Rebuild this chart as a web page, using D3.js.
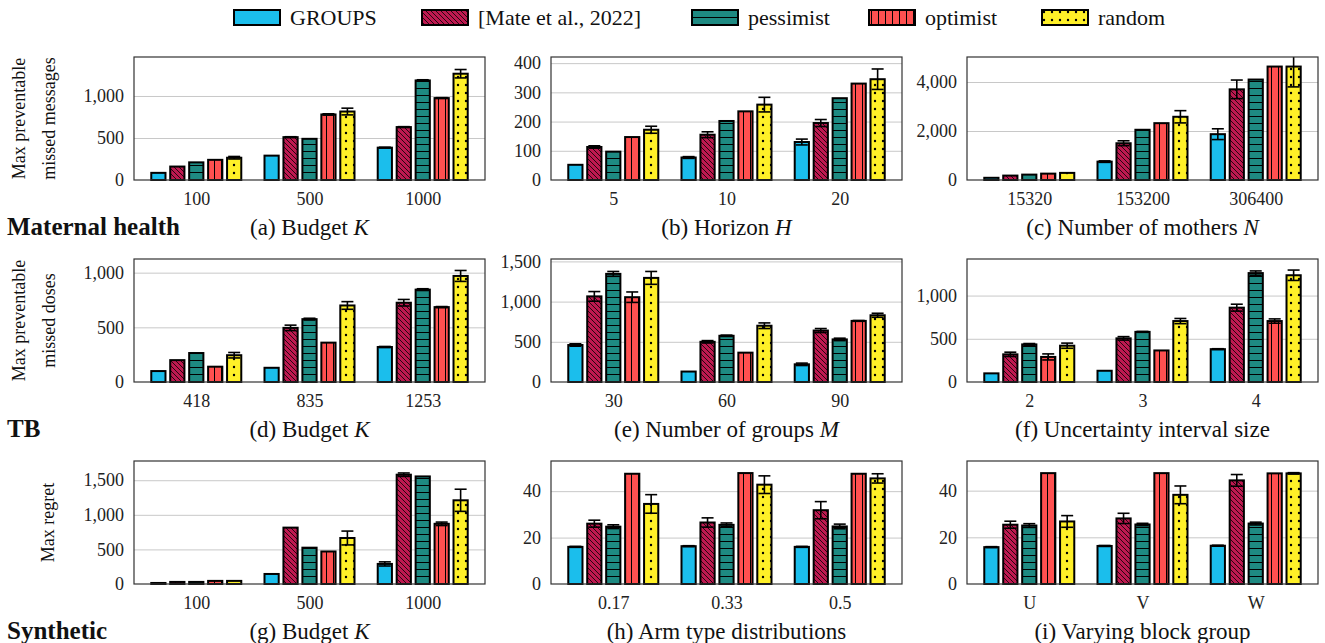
<!DOCTYPE html>
<html>
<head>
<meta charset="utf-8">
<script src="https://cdn.jsdelivr.net/npm/d3@7"></script>
<style>
  body { margin: 0; background: #fff; }
  svg { font-family: "Liberation Serif", "Times New Roman", serif; }
</style>
</head>
<body>
<svg id="chart" width="1325" height="643"></svg>
<script>
// series and look
const series = ["GROUPS", "[Mate et al., 2022]", "pessimist", "optimist", "random"];
const colors = ["#1bbeec", "#be1950", "#1e8a82", "#ff5050", "#fff028"];

// (a) maternal health, budget
const catA = ["100", "500", "1000"];
const valA = [[85, 160, 210, 240, 265], [290, 510, 490, 780, 815], [385, 630, 1185, 975, 1265]];
const errA = [[0, 0, 0, 0, 15], [0, 5, 0, 8, 40], [5, 5, 8, 5, 50]];
// (b) horizon
const catB = ["5", "10", "20"];
const valB = [[52, 113, 97, 147, 172], [77, 155, 202, 235, 258], [130, 195, 280, 330, 345]];
const errB = [[0, 4, 0, 0, 12], [3, 10, 0, 0, 25], [10, 12, 0, 0, 35]];
// (c) number of mothers
const catC = ["15320", "153200", "306400"];
const valC = [[90, 180, 220, 260, 290], [750, 1500, 2050, 2320, 2580], [1870, 3700, 4100, 4630, 4630]];
const errC = [[0, 0, 0, 0, 0], [30, 100, 0, 0, 250], [220, 380, 0, 0, 830]];
// (d) TB budget
const catD = ["418", "835", "1253"];
const valD = [[100, 200, 265, 140, 245], [130, 495, 575, 360, 700], [320, 725, 845, 685, 970]];
const errD = [[0, 0, 0, 0, 25], [0, 25, 8, 0, 35], [5, 30, 8, 5, 50]];
// (e) number of groups
const catE = ["30", "60", "90"];
const valE = [[460, 1065, 1345, 1055, 1295], [130, 500, 575, 365, 700], [220, 640, 530, 760, 830]];
const errE = [[15, 60, 30, 65, 80], [0, 15, 8, 0, 35], [15, 25, 15, 5, 25]];
// (f) uncertainty interval size
const catF = ["2", "3", "4"];
const valF = [[100, 320, 435, 290, 420], [130, 505, 580, 365, 705], [380, 860, 1260, 705, 1235]];
const errF = [[0, 25, 10, 35, 30], [0, 20, 5, 0, 30], [5, 40, 25, 25, 60]];
// (g) synthetic budget
const catG = ["100", "500", "1000"];
const valG = [[15, 30, 30, 45, 45], [145, 815, 525, 470, 665], [290, 1580, 1555, 870, 1210]];
const errG = [[0, 0, 0, 0, 0], [0, 0, 0, 0, 100], [30, 25, 0, 25, 160]];
// (h) arm type distributions
const catH = ["0.17", "0.33", "0.5"];
const valH = [[16, 26, 24.7, 47.5, 34.5], [16.3, 26.5, 25.5, 47.8, 42.8], [16, 31.8, 24.8, 47.5, 45.5]];
const errH = [[0.2, 1.5, 0.8, 0, 4], [0.2, 2, 0.8, 0, 3.8], [0.2, 3.7, 1, 0, 2]];
// (i) varying block group
const catI = ["U", "V", "W"];
const valI = [[15.8, 25.4, 25.05, 47.5, 26.8], [16.3, 28.1, 25.5, 47.5, 38.2], [16.4, 44.4, 25.9, 47.4, 47.4]];
const errI = [[0.2, 1.5, 0.8, 0, 2.5], [0.2, 2.2, 0.5, 0, 3.8], [0.2, 2.5, 0.6, 0, 0.3]];

const svg = d3.select("#chart");

// fill patterns
const defs = svg.append("defs");
function pattern(id, bg, size, draw) {
  const p = defs.append("pattern").attr("id", id)
    .attr("patternUnits", "userSpaceOnUse")
    .attr("width", size).attr("height", size);
  p.append("rect").attr("width", size).attr("height", size).attr("fill", bg);
  draw(p);
}
pattern("p0", colors[0], 6, p => {});
pattern("p1", colors[1], 5, p => p.append("path")
  .attr("d", "M0,0L5,5M-1,4L1,6M4,-1L6,1").attr("stroke", "#000").attr("stroke-width", 0.8));
pattern("p2", colors[2], 7, p => p.append("path")
  .attr("d", "M0,3.5H7").attr("stroke", "#000").attr("stroke-width", 1));
pattern("p3", colors[3], 7, p => p.append("path")
  .attr("d", "M3.5,0V7").attr("stroke", "#000").attr("stroke-width", 1));
pattern("p4", colors[4], 8, p => p.append("circle")
  .attr("cx", 4).attr("cy", 4).attr("r", 1.2).attr("fill", "#000"));

const fills = series.map((s, i) => `url(#p${i})`);

// layout
const colX = [134, 551, 967];
const rowY = [57, 259, 461];
const pw = 351, ph = 123;

const panels = [
  { cats: catA, vals: valA, errs: errA, ymax: 1464, ticks: [0, 500, 1000], title: "(a) Budget ", it: "K", c: 0, r: 0 },
  { cats: catB, vals: valB, errs: errB, ymax: 421, ticks: [0, 100, 200, 300, 400], title: "(b) Horizon ", it: "H", c: 1, r: 0 },
  { cats: catC, vals: valC, errs: errC, ymax: 5020, ticks: [0, 2000, 4000], title: "(c) Number of mothers ", it: "N", c: 2, r: 0 },
  { cats: catD, vals: valD, errs: errD, ymax: 1125, ticks: [0, 500, 1000], title: "(d) Budget ", it: "K", c: 0, r: 1 },
  { cats: catE, vals: valE, errs: errE, ymax: 1530, ticks: [0, 500, 1000, 1500], title: "(e) Number of groups ", it: "M", c: 1, r: 1 },
  { cats: catF, vals: valF, errs: errF, ymax: 1423, ticks: [0, 500, 1000], title: "(f) Uncertainty interval size", it: "", c: 2, r: 1 },
  { cats: catG, vals: valG, errs: errG, ymax: 1778, ticks: [0, 500, 1000, 1500], title: "(g) Budget ", it: "K", c: 0, r: 2 },
  { cats: catH, vals: valH, errs: errH, ymax: 53, ticks: [0, 20, 40], title: "(h) Arm type distributions", it: "", c: 1, r: 2 },
  { cats: catI, vals: valI, errs: errI, ymax: 52.7, ticks: [0, 20, 40], title: "(i) Varying block group", it: "", c: 2, r: 2 }
];

panels.forEach(p => {
  const x0 = colX[p.c], y0 = rowY[p.r];
  const g = svg.append("g").attr("transform", `translate(${x0},${y0})`);

  const x = d3.scalePoint().domain(p.cats).range([0, pw]).padding(0.55);
  const xs = d3.scaleBand().domain(series).range([-45, 45]).paddingInner(0.25);
  const y = d3.scaleLinear().domain([0, p.ymax]).range([ph, 0]);

  // grid
  g.append("g")
    .call(d3.axisLeft(y).tickValues(p.ticks.filter(t => t > 0)).tickSize(-pw).tickFormat(""))
    .call(a => a.select(".domain").remove())
    .call(a => a.selectAll("line").attr("stroke", "#c8c8c8").attr("stroke-width", 1));

  // y axis labels
  g.append("g")
    .call(d3.axisLeft(y).tickValues(p.ticks).tickSize(0).tickPadding(10).tickFormat(d3.format(",")))
    .call(a => a.select(".domain").remove())
    .call(a => a.selectAll("text").attr("font-size", 18).attr("fill", "#222")
      .attr("font-family", "Liberation Serif, serif"));

  // x axis labels
  g.append("g").attr("transform", `translate(0,${ph})`)
    .call(d3.axisBottom(x).tickSize(0).tickPadding(12))
    .call(a => a.select(".domain").remove())
    .call(a => a.selectAll("text").attr("font-size", 18).attr("fill", "#222")
      .attr("font-family", "Liberation Serif, serif"));

  // bars
  const rows = [];
  p.cats.forEach((cat, ci) => series.forEach((s, si) => {
    rows.push({ cat, s, si, v: p.vals[ci][si], e: p.errs[ci][si] });
  }));

  const bg = g.append("g");
  bg.selectAll("rect").data(rows).join("rect")
    .attr("x", d => x(d.cat) + xs(d.s))
    .attr("y", d => y(d.v))
    .attr("width", xs.bandwidth())
    .attr("height", d => y(0) - y(d.v))
    .attr("fill", d => fills[d.si])
    .attr("stroke", "#000")
    .attr("stroke-width", 2);

  // error bars (clipped at the frame top)
  const eb = g.append("g").attr("stroke", "#000").attr("stroke-width", 1.6);
  rows.filter(d => d.e > 0).forEach(d => {
    const cx = x(d.cat) + xs(d.s) + xs.bandwidth() / 2;
    const top = Math.max(y(d.v + d.e), 0);
    const bot = y(d.v - d.e);
    eb.append("line").attr("x1", cx).attr("x2", cx).attr("y1", top).attr("y2", bot);
    if (y(d.v + d.e) >= 0) {
      eb.append("line").attr("x1", cx - 6).attr("x2", cx + 6).attr("y1", top).attr("y2", top);
    }
    eb.append("line").attr("x1", cx - 6).attr("x2", cx + 6).attr("y1", bot).attr("y2", bot);
  });

  // frame
  g.append("rect").attr("width", pw).attr("height", ph)
    .attr("fill", "none").attr("stroke", "#333").attr("stroke-width", 1.2);

  // caption
  const t = g.append("text")
    .attr("x", pw / 2).attr("y", ph + 55)
    .attr("text-anchor", "middle")
    .attr("font-size", 23).attr("fill", "#111")
    .text(p.title);
  if (p.it) t.append("tspan").attr("font-style", "italic").text(p.it);
});

// row titles
const rowNames = ["Maternal health", "TB", "Synthetic"];
rowNames.forEach((n, i) => {
  svg.append("text").attr("x", 7).attr("y", rowY[i] + ph + 55)
    .attr("font-size", 25).attr("font-weight", "bold").attr("fill", "#111").text(n);
});

// y titles
const yTitles = [["Max preventable", "missed messages"], ["Max preventable", "missed doses"], ["Max regret"]];
yTitles.forEach((lines, i) => {
  const cy = rowY[i] + ph / 2;
  const xs0 = lines.length === 2 ? [19, 49] : [48];
  lines.forEach((l, j) => {
    svg.append("text")
      .attr("transform", `translate(${xs0[j]},${cy}) rotate(-90)`)
      .attr("text-anchor", "middle").attr("dy", "0.35em")
      .attr("font-size", 18).attr("fill", "#111").text(l);
  });
});

// legend
const legX = [234, 422, 692, 869, 1042];
const leg = svg.append("g");
series.forEach((s, i) => {
  leg.append("rect").attr("x", legX[i]).attr("y", 10).attr("width", 46).attr("height", 15)
    .attr("fill", fills[i]).attr("stroke", "#000").attr("stroke-width", 2);
  leg.append("text").attr("x", legX[i] + 56).attr("y", 25)
    .attr("font-size", 22).attr("fill", "#111").text(s);
});
</script>
</body>
</html>
